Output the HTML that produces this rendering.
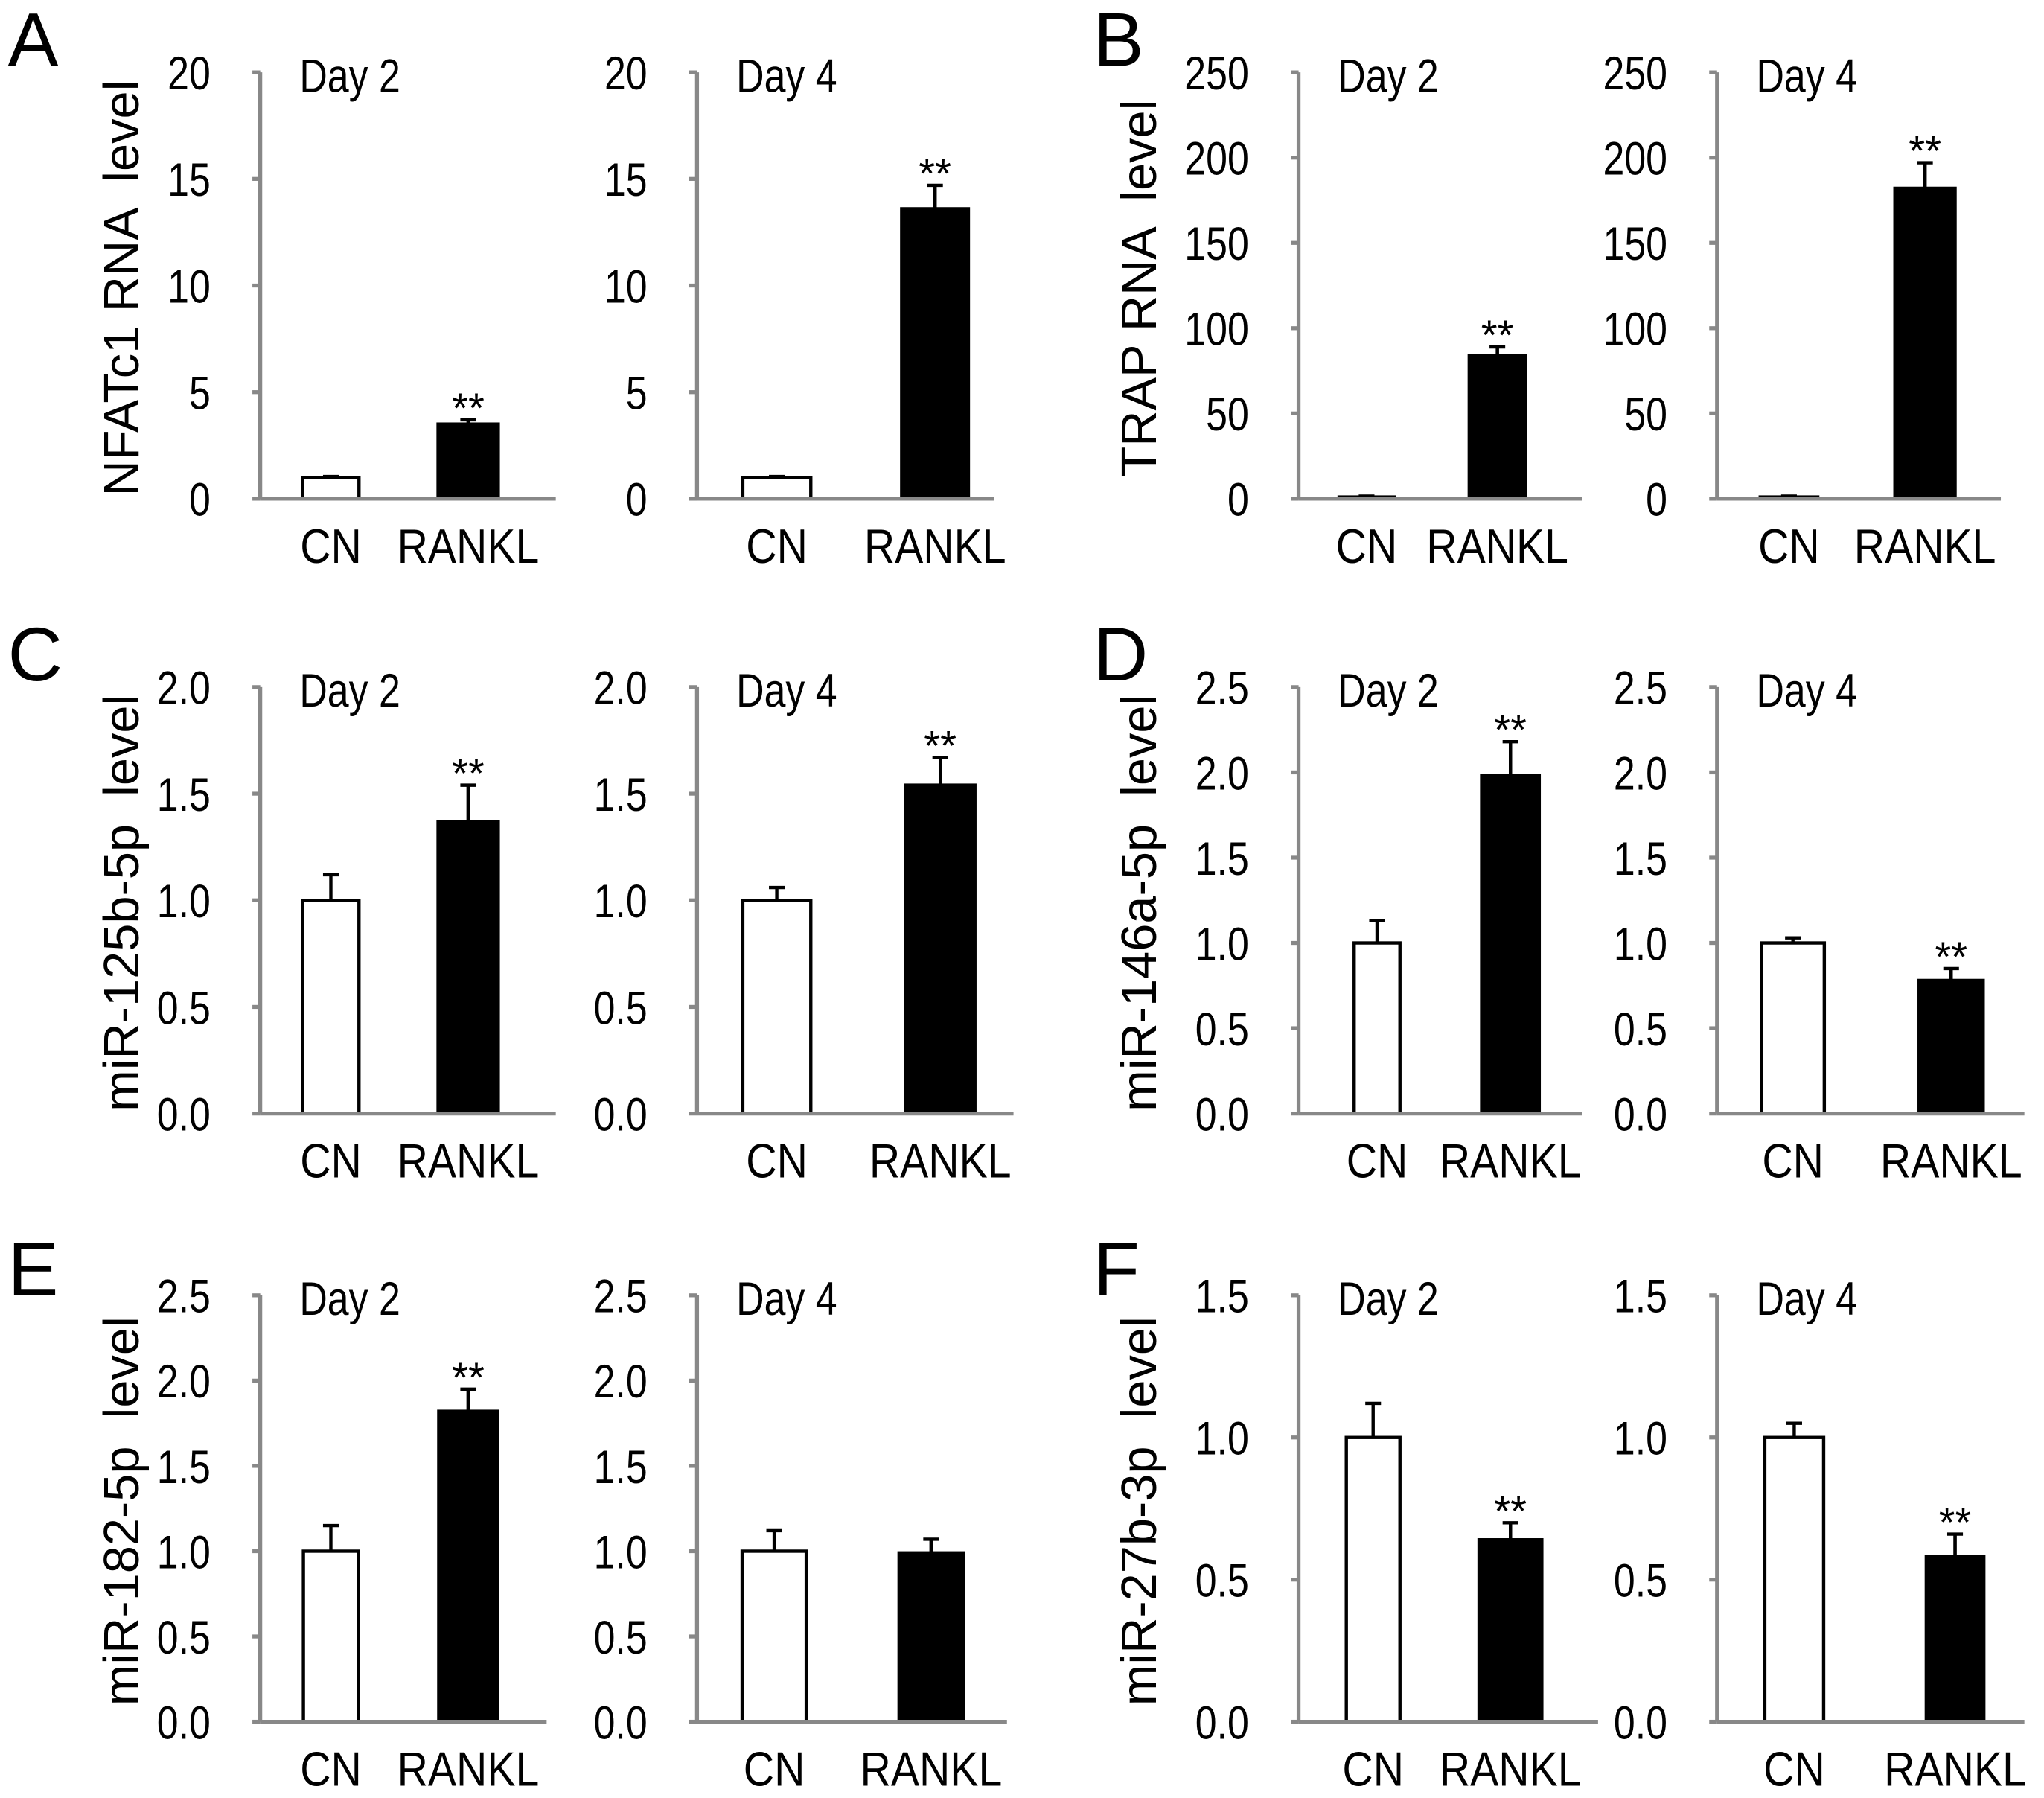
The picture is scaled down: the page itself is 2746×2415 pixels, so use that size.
<!DOCTYPE html>
<html><head><meta charset="utf-8"><style>
html,body{margin:0;padding:0;background:#fff}
svg{display:block}
text{font-family:"Liberation Sans",Arial,sans-serif;fill:#000}
</style></head><body>
<svg id="fig" width="2746" height="2415" viewBox="0 0 1563 1374" xmlns="http://www.w3.org/2000/svg"></svg>
<script>
const categories=["CN","RANKL"];
const nfatDay2=[1.0,3.5], nfatDay2Err=[0.04,0.2];
const nfatDay4=[1.0,13.6], nfatDay4Err=[0.04,1.1];
const trapDay2=[1,84], trapDay2Err=[0.5,5];
const trapDay4=[1,182], trapDay4Err=[0.5,15];
const mir125Day2=[1.0,1.37], mir125Day2Err=[0.12,0.17];
const mir125Day4=[1.0,1.54], mir125Day4Err=[0.06,0.13];
const mir146Day2=[1.0,1.98], mir146Day2Err=[0.13,0.2];
const mir146Day4=[1.0,0.78], mir146Day4Err=[0.03,0.07];
const mir182Day2=[1.0,1.82], mir182Day2Err=[0.15,0.13];
const mir182Day4=[1.0,0.99], mir182Day4Err=[0.12,0.08];
const mir27Day2=[1.0,0.64], mir27Day2Err=[0.12,0.06];
const mir27Day4=[1.0,0.58], mir27Day4Err=[0.05,0.08];
const sigDay2A=[false,true], sigDay4A=[false,true];
const ticksNfat=[0,5,10,15,20], ticksTrap=[0,50,100,150,200,250];
const ticks20=[0,0.5,1.0,1.5,2.0], ticks25=[0,0.5,1.0,1.5,2.0,2.5], ticks15=[0,0.5,1.0,1.5];
const sigC=[false,true], sigE4=[false,false];

const charts=[
 {x:199,top:55,bot:381,xe:425,c:[253,358],w:[43,46],v:nfatDay2,e:nfatDay2Err,t:ticksNfat,dec:0,day:"Day 2",sig:sigDay2A,n:"nfatc1-day2"},
 {x:533,top:55,bot:381,xe:760,c:[594,715],w:[52,51],v:nfatDay4,e:nfatDay4Err,t:ticksNfat,dec:0,day:"Day 4",sig:sigDay4A,n:"nfatc1-day4"},
 {x:993,top:55,bot:381,xe:1210,c:[1045,1145],w:[42,43],v:trapDay2,e:trapDay2Err,t:ticksTrap,dec:0,day:"Day 2",sig:sigC,n:"trap-day2"},
 {x:1313,top:55,bot:381,xe:1530,c:[1368,1472],w:[44,46],v:trapDay4,e:trapDay4Err,t:ticksTrap,dec:0,day:"Day 4",sig:sigC,n:"trap-day4"},
 {x:199,top:525,bot:851,xe:425,c:[253,358],w:[43,46],v:mir125Day2,e:mir125Day2Err,t:ticks20,dec:1,day:"Day 2",sig:sigC,n:"mir125-day2"},
 {x:533,top:525,bot:851,xe:775,c:[594,719],w:[52,53],v:mir125Day4,e:mir125Day4Err,t:ticks20,dec:1,day:"Day 4",sig:sigC,n:"mir125-day4"},
 {x:993,top:525,bot:851,xe:1210,c:[1053,1155],w:[35,44],v:mir146Day2,e:mir146Day2Err,t:ticks25,dec:1,day:"Day 2",sig:sigC,n:"mir146-day2"},
 {x:1313,top:525,bot:851,xe:1548,c:[1371,1492],w:[48,49],v:mir146Day4,e:mir146Day4Err,t:ticks25,dec:1,day:"Day 4",sig:sigC,n:"mir146-day4"},
 {x:199,top:990,bot:1316,xe:418,c:[253,358],w:[42,45],v:mir182Day2,e:mir182Day2Err,t:ticks25,dec:1,day:"Day 2",sig:sigC,n:"mir182-day2"},
 {x:533,top:990,bot:1316,xe:770,c:[592,712],w:[49,49],v:mir182Day4,e:mir182Day4Err,t:ticks25,dec:1,day:"Day 4",sig:sigE4,n:"mir182-day4"},
 {x:993,top:990,bot:1316,xe:1222,c:[1050,1155],w:[41,48],v:mir27Day2,e:mir27Day2Err,t:ticks15,dec:1,day:"Day 2",sig:sigC,n:"mir27-day2"},
 {x:1313,top:990,bot:1316,xe:1548,c:[1372,1495],w:[45,44],v:mir27Day4,e:mir27Day4Err,t:ticks15,dec:1,day:"Day 4",sig:sigC,n:"mir27-day4"}
];
const NS="http://www.w3.org/2000/svg";
const svg=document.getElementById("fig");
function mk(tag,attrs,parent,txt){const el=document.createElementNS(NS,tag);for(const k in attrs)el.setAttribute(k,attrs[k]);if(txt!==undefined)el.textContent=txt;(parent||svg).appendChild(el);return el;}
const SX=0.82;
charts.forEach(ch=>{
  const g=mk("g",{});
  
  
  const max=ch.t[ch.t.length-1];
  const y=v=>ch.bot-(v/max)*(ch.bot-ch.top);
  ch.t.forEach(tv=>{
    const tk=mk("line",{x1:ch.x-6,x2:ch.x,y1:y(tv),y2:y(tv),stroke:"#888","stroke-width":3},g);
    
    
    const tl=mk("text",{x:0,y:0,"text-anchor":"end","font-size":36,transform:`translate(${ch.x-38},${y(tv)+13}) scale(${SX},1)`},g,tv.toFixed(ch.dec));
    
    
  });
  const ya=mk("line",{x1:ch.x,x2:ch.x,y1:ch.top,y2:ch.bot,stroke:"#888","stroke-width":3},g);
  
  
  const dl=mk("text",{x:0,y:0,"font-size":36,transform:`translate(${ch.x+30},${ch.top+15}) scale(${SX},1)`},g,ch.day);
  
  
  categories.forEach((cat,i)=>{
    const cx=ch.c[i],w=ch.w[i],v=ch.v[i],e=ch.e[i];
    const yt=y(v),yh=y(v+e),yl=y(Math.max(0,v-e));
    const eb=mk("path",{d:`M${cx},${yl}V${yh}M${cx-6},${yh}H${cx+6}M${cx-6},${yl}H${cx+6}`,stroke:"#000","stroke-width":2.5,fill:"none"},g);
    
    
    const b=mk("rect",{x:cx-w/2,y:yt,width:w,height:ch.bot-yt,fill:i?"#000":"#fff",stroke:"#000","stroke-width":2.5},g);
    
    
    if(i===1){const u=mk("line",{x1:cx,x2:cx,y1:yt,y2:yh,stroke:"#000","stroke-width":2.5},g);
      
      }
    if(ch.sig[i]){const s=mk("text",{x:cx,y:yh+2,"text-anchor":"middle","font-size":32},g,"**");
      
      }
    const xl=mk("text",{x:0,y:0,"text-anchor":"middle","font-size":37,transform:`translate(${cx},${ch.bot+49}) scale(0.88,1)`},g,cat);
    
    
  });
  const xa=mk("line",{x1:ch.x,x2:ch.xe,y1:ch.bot,y2:ch.bot,stroke:"#888","stroke-width":3},g);
  
  
});
const panelLetters=[["A",6,50],["B",836,50],["C",6,520],["D",836,520],["E",6,990],["F",836,990]];
panelLetters.forEach(p=>{const t=mk("text",{x:p[1],y:p[2],"font-size":58},svg,p[0]);
  
  });
const yTitles=[["NFATc1 RNA  level",106,220],["TRAP RNA  level",884,220],["miR-125b-5p  level",106,690],["miR-146a-5p  level",884,690],["miR-182-5p  level",106,1155],["miR-27b-3p  level",884,1155]];
yTitles.forEach(p=>{const t=mk("text",{x:0,y:0,"font-size":38,"text-anchor":"middle","xml:space":"preserve",transform:`translate(${p[1]},${p[2]}) rotate(-90)`},svg,p[0]);
  t.setAttribute('xml:space','preserve');
  t.style.whiteSpace='pre';
  
  });
</script>
</body></html>
